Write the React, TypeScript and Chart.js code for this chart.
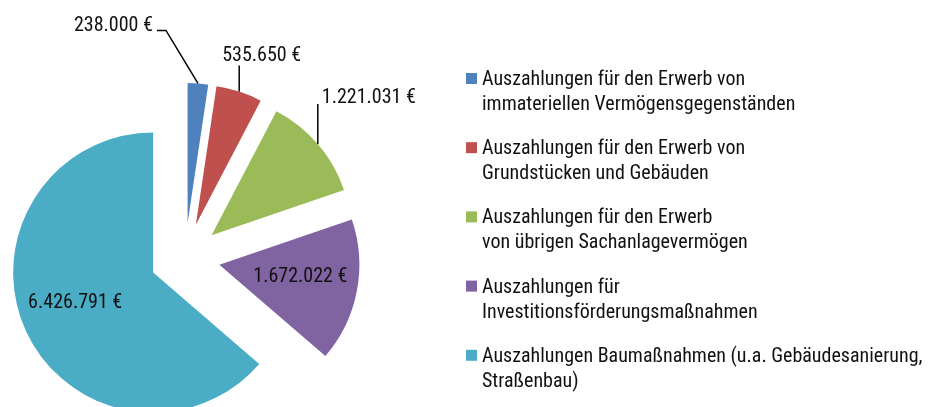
import React, { useEffect, useRef } from 'react';
import { Chart, registerables } from 'chart.js';
Chart.register(...registerables);

const categories: string[][] = [
  ['Auszahlungen für den Erwerb von', 'immateriellen Vermögensgegenständen'],
  ['Auszahlungen für den Erwerb von', 'Grundstücken und Gebäuden'],
  ['Auszahlungen für den Erwerb', 'von übrigen Sachanlagevermögen'],
  ['Auszahlungen für', 'Investitionsförderungsmaßnahmen'],
  ['Auszahlungen Baumaßnahmen (u.a. Gebäudesanierung,', 'Straßenbau)'],
];
const values = [238000, 535650, 1221031, 1672022, 6426791];
const colors = ['#4F81BD', '#C0504D', '#9BBB59', '#8064A2', '#4BACC6'];

const FONT_FAMILY = '"Roboto Condensed", "DejaVu Sans Condensed", sans-serif';
const FONT = `20px ${FONT_FAMILY}`;
const EXPLODE = 35;

const fmt = (v: number) => String(v).replace(/\B(?=(\d{3})+(?!\d))/g, '.') + ' €';

// label layout relative to each slice (outer mid point for leaders, apex for inside)
const labelSpecs: any[] = [
  { kind: 'leader', path: [[0, 0], [-32, -53], [-41, -53]], align: 'right', tdx: -4, tdy: 1 },
  { kind: 'leader', path: [[0, 0], [0, -26]], align: 'left', tdx: -17, tdy: -5 },
  { kind: 'leader', path: [[0, 0], [0, -40]], align: 'left', tdx: 4, tdy: -1 },
  { kind: 'inside', dx: 81, dy: 17 },
  { kind: 'inside', dx: -78, dy: 35 },
];

const explodePlugin = {
  id: 'explode',
  afterDatasetsUpdate(chart: any) {
    chart.getDatasetMeta(0).data.forEach((arc: any) => {
      const mid = (arc.startAngle + arc.endAngle) / 2;
      arc.x += EXPLODE * Math.cos(mid);
      arc.y += EXPLODE * Math.sin(mid);
    });
  },
};

const labelPlugin = {
  id: 'valueLabels',
  afterDatasetsDraw(chart: any) {
    const ctx = chart.ctx;
    ctx.save();
    ctx.font = FONT;
    ctx.fillStyle = '#111';
    ctx.strokeStyle = '#000';
    ctx.lineWidth = 1.5;
    ctx.textBaseline = 'alphabetic';
    chart.getDatasetMeta(0).data.forEach((arc: any, i: number) => {
      const spec = labelSpecs[i];
      const text = fmt(values[i]);
      const mid = (arc.startAngle + arc.endAngle) / 2;
      if (spec.kind === 'leader') {
        const ox = arc.x + arc.outerRadius * Math.cos(mid);
        const oy = arc.y + arc.outerRadius * Math.sin(mid);
        ctx.beginPath();
        spec.path.forEach((p: number[], k: number) => {
          if (k === 0) ctx.moveTo(ox + p[0], oy + p[1]);
          else ctx.lineTo(ox + p[0], oy + p[1]);
        });
        ctx.stroke();
        const end = spec.path[spec.path.length - 1];
        ctx.textAlign = spec.align;
        ctx.fillText(text, ox + end[0] + spec.tdx, oy + end[1] + spec.tdy);
      } else {
        ctx.textAlign = 'center';
        ctx.fillText(text, arc.x + spec.dx, arc.y + spec.dy);
      }
    });
    ctx.restore();
  },
};

const legendPlugin = {
  id: 'sideLegend',
  afterDraw(chart: any) {
    const ctx = chart.ctx;
    ctx.save();
    ctx.font = FONT;
    ctx.textAlign = 'left';
    ctx.textBaseline = 'alphabetic';
    categories.forEach((lines, i) => {
      const base = 85 + 69.2 * i;
      ctx.fillStyle = colors[i];
      ctx.fillRect(466, base - 12, 11, 11);
      ctx.fillStyle = '#111';
      lines.forEach((ln, k) => ctx.fillText(ln, 482, base + 25 * k));
    });
    ctx.restore();
  },
};

export default function App() {
  const ref = useRef<HTMLCanvasElement>(null);
  useEffect(() => {
    const chart = new Chart(ref.current!, {
      type: 'pie',
      data: {
        labels: categories.map((c) => c.join(' ')),
        datasets: [{ data: values, backgroundColor: colors, borderWidth: 0, hoverOffset: 0 }],
      },
      options: {
        responsive: false,
        animation: false,
        radius: 140,
        layout: { padding: { left: 0, right: 558, top: 109, bottom: 0 } },
        plugins: { legend: { display: false }, tooltip: { enabled: false } },
        events: [],
      } as any,
      plugins: [explodePlugin, labelPlugin, legendPlugin],
    });
    return () => chart.destroy();
  }, []);
  return (
    <div style={{ position: 'absolute', left: 0, top: 0, width: 928, height: 407, background: '#fff' }}>
      <canvas ref={ref} width={928} height={407} style={{ display: 'block' }} />
    </div>
  );
}
